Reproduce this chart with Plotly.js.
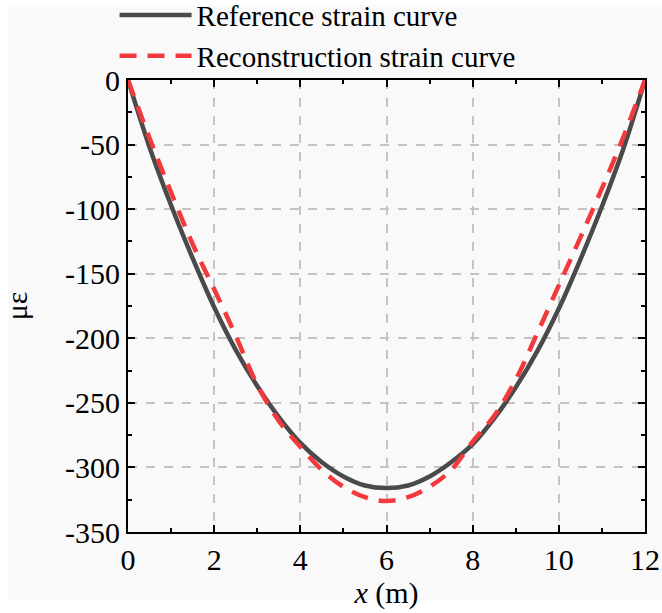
<!DOCTYPE html>
<html>
<head>
<meta charset="utf-8">
<script src="https://cdn.plot.ly/plotly-3.0.1.min.js"></script>
<style>
  html, body { margin: 0; padding: 0; background: #ffffff; }
  #bg { position: absolute; left: 8px; top: 5px; width: 654px; height: 595px; background: #f9f9f9; }
  #chart { position: absolute; left: 0; top: 0; width: 662px; height: 613px; }
</style>
</head>
<body>
<div id="bg"></div>
<div id="chart"></div>
<script>
// Data
const xPos = [0, 0.5, 1, 1.5, 2, 2.5, 3, 3.5, 4, 4.5, 5, 5.5, 6, 6.5, 7, 7.5, 8, 8.5, 9, 9.5, 10, 10.5, 11, 11.5, 12];
const referenceStrain = [0, -52, -97, -138, -176, -209, -237, -261, -281, -296, -307, -314, -316, -314, -307, -296, -282, -262, -238, -210, -177, -139, -98, -53, 0];
const reconstructionStrain = [0, -45, -87, -127, -162, -198, -236, -264, -284, -302, -315, -323, -326, -323, -315, -302, -280, -260, -232, -196, -159, -122, -84, -44, 0];

const xTickVals = [0, 2, 4, 6, 8, 10, 12];
const xTickText = ['0', '2', '4', '6', '8', '10', '12'];
const yTickVals = [0, -50, -100, -150, -200, -250, -300, -350];
const yTickText = ['0', '-50', '-100', '-150', '-200', '-250', '-300', '-350'];

const seriesNames = ['Reference strain curve', 'Reconstruction strain curve'];

const serif = 'Liberation Serif';

function makeTraces() {
  return [
    {
      x: xPos, y: referenceStrain, name: seriesNames[0], type: 'scatter', mode: 'lines',
      line: { color: '#4a4a4a', width: 4.5, shape: 'spline' }, legendgroup: 'a'
    },
    {
      x: xPos, y: reconstructionStrain, name: seriesNames[1], type: 'scatter', mode: 'lines',
      line: { color: '#f2393d', width: 4.5, dash: '17px,11px', shape: 'spline' }, legendgroup: 'b'
    }
  ];
}

function axisBase() {
  return {
    showline: true, linecolor: '#000000', linewidth: 2, mirror: 'allticks',
    ticks: 'inside', ticklen: 7, tickwidth: 2, tickcolor: '#000000',
    showgrid: true, gridcolor: '#c4c4c4', gridwidth: 1.5, griddash: 'dash',
    zeroline: false,
    tickfont: { family: serif, size: 30, color: '#000000' },
    tickmode: 'array'
  };
}

function makeLayout() {
  return {
    width: 662, height: 613,
    font: { family: serif, size: 30, color: '#000000' },
    paper_bgcolor: 'rgba(0,0,0,0)', plot_bgcolor: '#f9f9f9',
    margin: { l: 128, r: 17, t: 80, b: 81, pad: 0, autoexpand: false },
    showlegend: true,
    legend: {
      x: -0.026, y: 1.2, xanchor: 'left', yanchor: 'top', yref: 'paper',
      bgcolor: 'rgba(0,0,0,0)', borderwidth: 0,
      font: { family: serif, size: 29, color: '#000000' },
      tracegroupgap: 0, itemwidth: 72
    },
    xaxis: Object.assign(axisBase(), {
      range: [0, 12], tickvals: xTickVals, ticktext: xTickText,
      minor: { dtick: 1, ticks: 'inside', ticklen: 4, tickwidth: 2, tickcolor: '#000000', showgrid: false },
      title: { text: '<i>x</i> (m)', font: { family: serif, size: 30, color: '#000000' }, standoff: 6 }
    }),
    yaxis: Object.assign(axisBase(), {
      range: [-350, 0], tickvals: yTickVals, ticktext: yTickText,
      minor: { dtick: 25, ticks: 'inside', ticklen: 4, tickwidth: 2, tickcolor: '#000000', showgrid: false },
      title: { text: 'με', font: { family: serif, size: 30, color: '#000000' }, standoff: 40 }
    })
  };
}

function draw() {
  return Plotly.newPlot('chart', makeTraces(), makeLayout(), { displayModeBar: false });
}

draw().then(function () {
  // redraw once the serif face is ready so the axis text is laid out with it
  const ready = (document.fonts && document.fonts.load)
    ? document.fonts.load('30px "Liberation Serif"').then(function () { return document.fonts.ready; })
    : Promise.resolve();
  return ready.then(function () {
    Plotly.purge('chart');
    return draw();
  });
});
</script>
</body>
</html>
